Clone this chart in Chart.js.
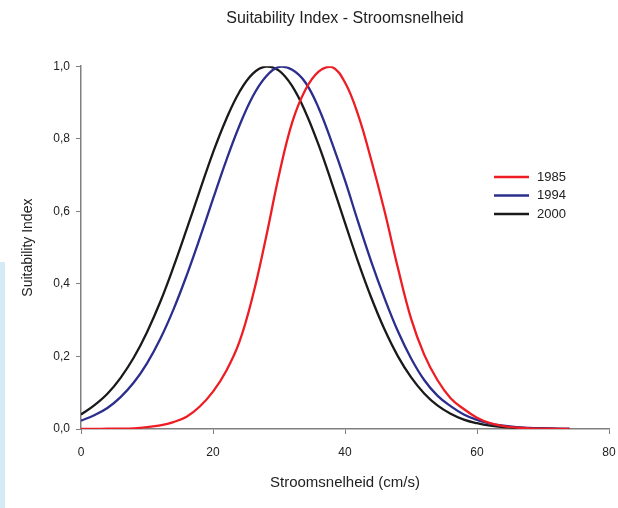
<!DOCTYPE html>
<html>
<head>
<meta charset="utf-8">
<script src="https://cdn.jsdelivr.net/npm/chart.js@4.4.1/dist/chart.umd.min.js"></script>
<style>
  html, body { margin: 0; padding: 0; background: #fff; }
  #wrap { position: relative; width: 618px; height: 508px; }
  #strip { position: absolute; left: 0; top: 262px; width: 5px; height: 246px; background: #d4eaf4; }
</style>
</head>
<body>
<div id="wrap">
  <canvas id="chart" width="618" height="508"></canvas>
  <div id="strip"></div>
</div>
<script>
// stroomsnelheid (cm/s)
var speed = [0, 2, 4, 6, 8, 10, 12, 14, 16, 18, 20, 22, 24, 26, 28, 30, 32, 34, 36, 38,
  40, 42, 44, 46, 48, 50, 52, 54, 56, 58, 60, 62, 64, 66, 68, 70, 72, 74];

var si1985 = [0.000, 0.000, 0.001, 0.001, 0.002, 0.005, 0.010, 0.019, 0.034, 0.062,
  0.103, 0.160, 0.240, 0.365, 0.525, 0.700, 0.845, 0.935, 0.985, 0.998,
  0.955, 0.865, 0.740, 0.600, 0.445, 0.305, 0.205, 0.135, 0.085, 0.055,
  0.031, 0.016, 0.008, 0.004, 0.002, 0.001, 0.0005, 0.000];

var si1994 = [0.023, 0.038, 0.058, 0.088, 0.128, 0.181, 0.248, 0.329, 0.423, 0.526,
  0.634, 0.740, 0.836, 0.916, 0.971, 0.998, 0.990, 0.955, 0.885, 0.790,
  0.685, 0.570, 0.460, 0.360, 0.270, 0.195, 0.135, 0.092, 0.063, 0.040,
  0.025, 0.015, 0.009, 0.005, 0.003, 0.002, 0.001, 0.000];

var si2000 = [0.040, 0.065, 0.097, 0.141, 0.197, 0.267, 0.350, 0.446, 0.550, 0.657,
  0.762, 0.854, 0.929, 0.979, 0.999, 0.988, 0.945, 0.874, 0.783, 0.678,
  0.568, 0.460, 0.361, 0.274, 0.201, 0.143, 0.098, 0.065, 0.042, 0.026,
  0.016, 0.009, 0.005, 0.003, 0.002, 0.001, 0.0005, 0.000];

var seriesNames = ["1985", "1994", "2000"];
var seriesColors = ["#ee1d24", "#2b2e8c", "#1a1a1a"];

function pts(ys) {
  return speed.map(function (x, i) { return { x: x, y: ys[i] }; });
}

Chart.defaults.font.family = '"Liberation Sans", Arial, sans-serif';
Chart.defaults.color = "#222";

// legend drawn inside the plot, right of the curves
var insideLegend = {
  id: "insideLegend",
  afterDatasetsDraw: function (chart) {
    var ctx = chart.ctx;
    var x0 = chart.chartArea.right - 115;
    ctx.save();
    chart.data.datasets.forEach(function (ds, i) {
      var y = 177 + i * 18.5;
      ctx.strokeStyle = ds.borderColor;
      ctx.lineWidth = 2.5;
      ctx.beginPath();
      ctx.moveTo(x0, y);
      ctx.lineTo(x0 + 35, y);
      ctx.stroke();
      ctx.fillStyle = "#222";
      ctx.font = '13px "Liberation Sans", Arial, sans-serif';
      ctx.textBaseline = "middle";
      ctx.fillText(ds.label, x0 + 43, y);
    });
    ctx.restore();
  }
};

var ctx = document.getElementById("chart").getContext("2d");
var chart = new Chart(ctx, {
  type: "line",
  data: {
    datasets: [
      { label: seriesNames[0], data: pts(si1985), borderColor: seriesColors[0] },
      { label: seriesNames[1], data: pts(si1994), borderColor: seriesColors[1] },
      { label: seriesNames[2], data: pts(si2000), borderColor: seriesColors[2] }
    ]
  },
  options: {
    responsive: false,
    animation: false,
    layout: { padding: 0 },
    elements: {
      point: { radius: 0 },
      line: { borderWidth: 2.3, tension: 0.4, fill: false }
    },
    scales: {
      x: {
        type: "linear",
        min: 0,
        max: 80,
        afterFit: function (s) {
          s.height = 79;
          s.paddingLeft = 0;
          s.paddingRight = 9;
        },
        ticks: { stepSize: 20, padding: 11, font: { size: 12 } },
        grid: { drawOnChartArea: false, tickLength: 5, color: "#808080" },
        border: { color: "#808080", width: 1.5 },
        title: {
          display: true,
          text: "Stroomsnelheid (cm/s)",
          font: { size: 15 },
          padding: { top: 0, bottom: 16 }
        }
      },
      y: {
        min: 0,
        max: 1,
        afterFit: function (s) { s.width = 81; },
        ticks: {
          stepSize: 0.2,
          padding: 6,
          font: { size: 12 },
          callback: function (v) { return v.toFixed(1).replace(".", ","); }
        },
        grid: { drawOnChartArea: false, tickLength: 5, color: "#808080" },
        border: { color: "#808080", width: 1.5 },
        title: {
          display: true,
          text: "Suitability Index",
          font: { size: 14 },
          padding: { top: 20, bottom: 0 }
        }
      }
    },
    plugins: {
      legend: { display: false },
      tooltip: { enabled: false },
      title: {
        display: true,
        fullSize: false,
        text: "Suitability Index - Stroomsnelheid",
        font: { size: 16, weight: "normal" },
        color: "#222",
        padding: { top: 9, bottom: 38 }
      }
    }
  },
  plugins: [insideLegend]
});
</script>
</body>
</html>
